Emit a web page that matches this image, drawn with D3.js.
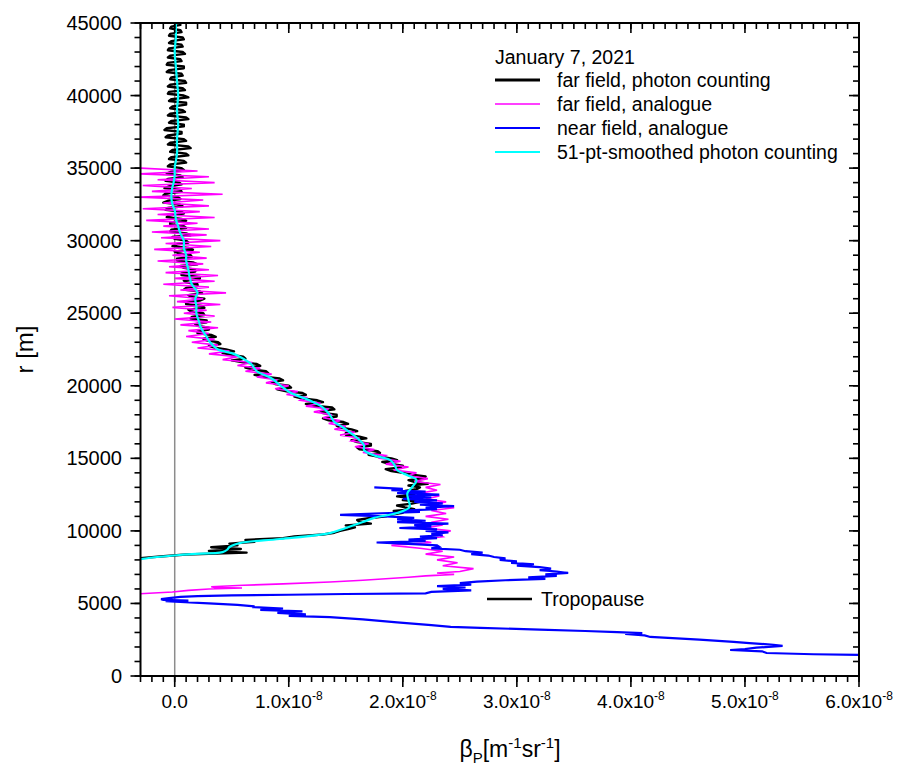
<!DOCTYPE html>
<html><head><meta charset="utf-8">
<script src="https://cdn.jsdelivr.net/npm/d3@7/dist/d3.min.js"></script>
<style>
body{margin:0;background:#fff}
svg{font-family:"Liberation Sans",Arial,sans-serif}
</style>
</head><body>
<svg id="c" width="906" height="776"></svg>
<script>
// ---------- DATA (beta values in units of 1e-8 m^-1 sr^-1, altitude r in m) ----------
const xTickValues = [0, 1, 2, 3, 4, 5, 6];
const yTickValues = [0, 5000, 10000, 15000, 20000, 25000, 30000, 35000, 40000, 45000];
const legendTitle = "January 7, 2021";
const seriesNames = ["far field, photon counting", "far field, analogue", "near field, analogue", "51-pt-smoothed photon counting"];
const tropopauseLabel = "Tropopause";

// far field, photon counting: regular range grid (125 m bins)
const pcStart = 8000, pcStep = 125;
const pcBeta = [
  -0.4, -0.3, -0.1, 0.1, 0.63, 0.3, 0.58, 0.32,
  0.55, 0.48, 0.7, 0.62, 0.95, 1.05, 1.3, 1.4,
  1.45, 1.52, 1.58, 1.5, 1.72, 1.62, 1.6, 1.7,
  1.85, 1.9, 2.0, 1.92, 2.1, 2.02, 1.95, 2.08,
  2.15, 2.0, 2.08, 1.95, 2.1, 2.0, 2.02, 2.12,
  2.15, 2.05, 2.22, 2.1, 2.05, 2.18, 2.2, 2.08,
  2.0, 1.9, 1.85, 1.98, 2.0, 1.88, 1.82, 1.95,
  1.9, 1.78, 1.7, 1.8, 1.78, 1.62, 1.6, 1.72,
  1.72, 1.6, 1.55, 1.68, 1.62, 1.5, 1.5, 1.6,
  1.55, 1.45, 1.42, 1.52, 1.48, 1.35, 1.3, 1.42,
  1.42, 1.3, 1.28, 1.4, 1.38, 1.22, 1.15, 1.3,
  1.25, 1.12, 1.05, 1.15, 1.12, 0.98, 0.9, 1.02,
  1.0, 0.88, 0.85, 0.95, 0.92, 0.78, 0.7, 0.82,
  0.8, 0.68, 0.62, 0.75, 0.72, 0.6, 0.5, 0.62,
  0.6, 0.5, 0.42, 0.52, 0.45, 0.35, 0.3, 0.4,
  0.38, 0.28, 0.25, 0.36, 0.32, 0.2, 0.2, 0.3,
  0.3, 0.2, 0.18, 0.28, 0.28, 0.14, 0.15, 0.26,
  0.25, 0.14, 0.12, 0.26, 0.24, 0.1, 0.1, 0.22,
  0.26, 0.14, 0.12, 0.24, 0.22, 0.08, 0.1, 0.2,
  0.2, 0.1, 0.08, 0.22, 0.22, 0.06, 0.06, 0.18,
  0.18, 0.08, 0.05, 0.2, 0.16, 0.02, 0.02, 0.15,
  0.14, 0.04, 0.0, 0.16, 0.12, -0.02, 0.02, 0.12,
  0.1, 0.0, -0.02, 0.14, 0.1, -0.04, -0.03, 0.1,
  0.08, -0.04, -0.04, 0.1, 0.06, -0.07, -0.05, 0.08,
  0.06, -0.08, -0.06, 0.07, 0.04, -0.1, -0.06, 0.05,
  0.03, -0.1, -0.08, 0.06, 0.05, -0.09, -0.05, 0.06,
  0.04, -0.08, -0.06, 0.07, 0.05, -0.07, -0.03, 0.08,
  0.06, -0.06, -0.04, 0.1, 0.08, -0.05, -0.03, 0.12,
  0.1, -0.04, -0.02, 0.14, 0.12, -0.06, -0.04, 0.1,
  0.08, -0.08, -0.06, 0.06, 0.06, -0.09, -0.07, 0.08,
  0.08, -0.05, -0.03, 0.12, 0.1, -0.06, -0.04, 0.09,
  0.07, -0.04, -0.02, 0.1, 0.1, -0.05, -0.03, 0.12,
  0.08, -0.06, -0.05, 0.09, 0.07, -0.06, -0.04, 0.1,
  0.09, -0.04, -0.03, 0.07, 0.06, -0.07, -0.05, 0.08,
  0.08, -0.07, -0.06, 0.06, 0.05, -0.06, -0.04, 0.09,
  0.07, -0.06, -0.05, 0.07, 0.06, -0.05, -0.03, 0.08,
  0.07, -0.05, -0.04, 0.06, 0.05, -0.04, -0.03, 0.05,
  0.04
];

// far field, analogue: lower transition (explicit) + regular grid above
const faLowAlt  = [5650, 5790, 5900, 6000, 6060, 6100, 6150, 6250, 6350, 6480, 6600, 6700, 6800, 6900, 7000, 7100];
const faLowBeta = [-0.35, -0.02, 0.12, 0.3, 0.59, 0.35, 0.32, 0.6, 0.95, 1.36, 1.65, 1.85, 2.05, 2.2, 2.45, 2.3];
const faStart = 7200, faStep = 200;
const faBeta = [
  2.5, 2.62, 2.35, 2.48, 2.3, 2.45, 2.2, 2.35, 2.15, 1.9,
  2.25, 2.1, 2.35, 2.3, 2.42, 2.2, 2.35, 2.25, 2.4, 2.2,
  2.38, 2.25, 2.45, 2.25, 2.38, 2.2, 2.32, 2.15, 2.3, 2.2,
  2.33, 2.1, 2.22, 2.05, 2.12, 1.92, 2.05, 1.85, 1.98, 1.8,
  1.85, 1.65, 1.75, 1.58, 1.7, 1.55, 1.62, 1.45, 1.58, 1.4,
  1.5, 1.35, 1.45, 1.3, 1.38, 1.22, 1.35, 1.15, 1.28, 1.1,
  1.15, 0.98, 1.08, 0.88, 1.0, 0.8, 0.9, 0.72, 0.85, 0.62,
  0.75, 0.55, 0.68, 0.42, 0.55, 0.3, 0.48, 0.2, 0.38, 0.15,
  0.35, 0.1, 0.3, 0.12, 0.38, 0.05, 0.32, 0.0, 0.35, 0.08,
  0.28, -0.02, 0.4, 0.02, 0.25, -0.05, 0.45, 0.05, 0.3, -0.1,
  0.35, 0.0, 0.38, -0.08, 0.3, -0.05, 0.25, -0.15, 0.28, -0.02,
  0.22, -0.18, 0.32, -0.08, 0.4, -0.12, 0.28, -0.2, 0.3, -0.1,
  0.2, -0.25, 0.35, -0.15, 0.22, -0.28, 0.3, -0.1, 0.25, -0.3,
  0.42, -0.2, 0.15, -0.28, 0.35, -0.15, 0.3, -0.3, 0.2, -0.3
];

// near field, analogue: lower part (explicit) + regular grid above
const naLowAlt = [1420, 1450, 1500, 1585, 1700, 1790, 1850, 1950, 2070, 2150, 2270, 2350, 2500, 2690, 2800, 2900, 2960, 3030, 3100, 3200,
  3310, 3380, 3500, 3700, 3900, 4060, 4150, 4250, 4350, 4450, 4550, 4650, 4750, 4800, 4900, 5000, 5100, 5150, 5200, 5250,
  5300, 5370, 5450, 5500, 5550, 5600, 5650, 5700, 5800, 5900, 6000, 6100, 6200, 6300, 6400, 6500, 6600, 6700, 6800, 6900, 7000];
const naLowBeta = [6.3, 6.0, 5.6, 5.19, 5.15, 4.87, 5.0, 5.1, 5.33, 5.25, 5.04, 4.9, 4.6, 4.17, 4.12, 3.95, 4.1, 3.88, 3.6, 3.2,
  2.68, 2.42, 2.25, 1.95, 1.65, 1.36, 1.0, 1.15, 0.9, 1.12, 0.75, 0.95, 0.68, 0.7, 0.55, 0.3, 0.05, -0.08, 0.12, -0.1,
  -0.12, -0.05, 0.05, 0.2, 0.5, 1.0, 1.5, 2.2, 2.25, 2.6, 2.35, 2.55, 2.3, 2.6, 2.5, 2.65, 2.9, 3.25, 3.1, 3.35, 3.25];
const naStart = 7100, naStep = 100;
const naBeta = [
  3.45, 3.35, 3.2, 3.3, 3.2, 3.0, 3.15, 2.95, 3.0, 2.85,
  2.9, 2.8, 2.75, 2.6, 2.7, 2.55, 2.5, 2.25, 2.32, 2.3,
  2.05, 1.77, 2.2, 2.05, 2.3, 2.15, 2.35, 2.25, 2.4, 2.2,
  2.3, 1.97, 2.25, 2.1, 2.4, 1.95, 2.2, 1.95, 2.1, 1.85,
  1.45, 1.75, 2.15, 2.0, 2.3, 2.2, 2.45, 2.15, 2.35, 2.1,
  2.3, 2.0, 2.25, 2.05, 2.32, 1.95, 2.2, 1.9, 2.0, 1.75
];

// 51-pt smoothed photon counting
const smAlt = [8060, 8200, 8340, 8400, 8540, 8700, 8890, 9160, 9440, 9850, 10200, 10610, 10900, 11230, 11650, 12100, 12600, 13000, 13500, 13800,
  14190, 14500, 14880, 15200, 15570, 15900, 16260, 16700, 17160, 17500, 18000, 18500, 19000, 19500, 20000, 20500, 21000, 21500, 22000, 22250,
  22500, 23000, 23500, 24000, 24500, 25000, 25500, 26000, 26400, 27000, 27500, 28000, 28650, 29000, 29500, 30000, 30500, 31000, 31500, 32100,
  32500, 33000, 33700, 34000, 34500, 35000, 36000, 37000, 38000, 39000, 40000, 41000, 42000, 43000, 44000, 45000];
const smBeta = [-0.30, -0.15, 0.04, 0.15, 0.42, 0.46, 0.48, 0.57, 0.92, 1.36, 1.5, 1.65, 1.75, 1.95, 2.06, 2.05, 2.04, 2.08, 2.12, 2.05,
  1.95, 1.93, 1.89, 1.75, 1.66, 1.66, 1.62, 1.55, 1.47, 1.40, 1.36, 1.30, 1.18, 1.02, 0.93, 0.85, 0.72, 0.67, 0.57, 0.50,
  0.38, 0.31, 0.27, 0.23, 0.21, 0.19, 0.19, 0.18, 0.2, 0.15, 0.13, 0.12, 0.10, 0.1, 0.08, 0.08, 0.05, 0.03, 0.01, 0.0,
  -0.02, -0.03, -0.02, -0.01, 0.0, 0.0, 0.02, 0.02, 0.03, 0.02, 0.03, 0.02, 0.01, 0.0, 0.01, 0.01];

// ---------- BUILD ----------
const pcData = pcBeta.map((v, i) => ({r: pcStart + i * pcStep, v}));
const faData = faLowAlt.map((r, i) => ({r, v: faLowBeta[i]}))
  .concat(faBeta.map((v, i) => ({r: faStart + i * faStep, v})));
const naData = naLowAlt.map((r, i) => ({r, v: naLowBeta[i]}))
  .concat(naBeta.map((v, i) => ({r: naStart + i * naStep, v})));
const smData = smAlt.map((r, i) => ({r, v: smBeta[i]}));

const colors = ["#000000", "#ff00ff", "#0000ff", "#00ffff"];

const L = 140.5, R = 859, T = 23, B = 676;
const x = d3.scaleLinear().domain([-0.3, 6]).range([L, R]);
const y = d3.scaleLinear().domain([0, 45000]).range([B, T]);

const svg = d3.select("#c");

svg.append("defs").append("clipPath").attr("id", "clip")
  .append("rect").attr("x", L).attr("y", T).attr("width", R - L).attr("height", B - T);

const plot = svg.append("g").attr("clip-path", "url(#clip)");

// zero line
plot.append("line").attr("x1", x(0)).attr("x2", x(0)).attr("y1", T).attr("y2", B)
  .attr("stroke", "#8c8c8c").attr("stroke-width", 1.5);

const line = d3.line().x(d => x(d.v)).y(d => y(d.r));
const smooth = d3.line().x(d => x(d.v)).y(d => y(d.r)).curve(d3.curveCatmullRom);

plot.append("path").datum(pcData).attr("d", line).attr("fill", "none")
  .attr("stroke", colors[0]).attr("stroke-width", 2.4).attr("stroke-linejoin", "round");
plot.append("path").datum(faData).attr("d", line).attr("fill", "none")
  .attr("stroke", colors[1]).attr("stroke-width", 1.6);
plot.append("path").datum(naData).attr("d", line).attr("fill", "none")
  .attr("stroke", colors[2]).attr("stroke-width", 2.2);
plot.append("path").datum(smData).attr("d", smooth).attr("fill", "none")
  .attr("stroke", colors[3]).attr("stroke-width", 2.2);

// ---------- AXES ----------
const yMinor = d3.range(0, 45001, 1000);
const xMinor = d3.range(-0.3, 6.001, 0.1).map(v => Math.round(v * 10) / 10);

function ticks(g, orient, vals, len, scale) {
  g.selectAll(null).data(vals).enter().append("line")
    .attr("stroke", "#000").attr("stroke-width", 1.6)
    .each(function(d) {
      const s = d3.select(this), p = scale(d);
      if (orient === "left") s.attr("x1", L).attr("x2", L - len).attr("y1", p).attr("y2", p);
      if (orient === "right") s.attr("x1", R).attr("x2", R - len).attr("y1", p).attr("y2", p);
      if (orient === "bottom") s.attr("x1", p).attr("x2", p).attr("y1", B).attr("y2", B + len);
      if (orient === "top") s.attr("x1", p).attr("x2", p).attr("y1", T).attr("y2", T + len);
    });
}
const ax = svg.append("g");
ticks(ax, "left", yMinor, 6, y);
ticks(ax, "left", yTickValues, 10, y);
ticks(ax, "right", yMinor, 6, y);
ticks(ax, "right", yTickValues, 10, y);
ticks(ax, "bottom", xMinor, 6, x);
ticks(ax, "bottom", xTickValues, 11, x);
ticks(ax, "top", xMinor, 6, x);
ticks(ax, "top", xTickValues, 10, x);

// frame
svg.append("rect").attr("x", L).attr("y", T).attr("width", R - L).attr("height", B - T)
  .attr("fill", "none").attr("stroke", "#000").attr("stroke-width", 2);

// y tick labels
svg.append("g").selectAll("text").data(yTickValues).enter().append("text")
  .attr("x", 122).attr("y", d => y(d) + 7).attr("text-anchor", "end")
  .attr("font-size", 20).text(d => d);

// x tick labels
const xl = svg.append("g").selectAll("text").data(xTickValues).enter().append("text")
  .attr("x", d => x(d)).attr("y", 708).attr("text-anchor", "middle").attr("font-size", 19);
xl.each(function(d) {
  const t = d3.select(this);
  if (d === 0) { t.text("0.0"); return; }
  t.append("tspan").text(d.toFixed(1) + "x10");
  t.append("tspan").attr("font-size", 12).attr("dy", -8).text("-8");
});

// axis titles
const xt = svg.append("text").attr("x", 510).attr("y", 757).attr("text-anchor", "middle").attr("font-size", 23);
xt.append("tspan").text("β");
xt.append("tspan").attr("font-size", 15).attr("dy", 6).text("P");
xt.append("tspan").attr("dy", -6).text("[m");
xt.append("tspan").attr("font-size", 15).attr("dy", -9).text("-1");
xt.append("tspan").attr("dy", 9).text("sr");
xt.append("tspan").attr("font-size", 15).attr("dy", -9).text("-1");
xt.append("tspan").attr("dy", 9).text("]");

svg.append("text").attr("transform", `translate(33,${(T + B) / 2}) rotate(-90)`)
  .attr("text-anchor", "middle").attr("font-size", 24).text("r [m]");

// ---------- LEGEND ----------
const lg = svg.append("g").attr("font-size", 19.5);
lg.append("text").attr("x", 495).attr("y", 64).text(legendTitle);
const rowsY = [80, 104, 128, 152];
const legW = [2.8, 1.6, 2.2, 2.2];
seriesNames.forEach((n, i) => {
  lg.append("line").attr("x1", 495).attr("x2", 540).attr("y1", rowsY[i]).attr("y2", rowsY[i])
    .attr("stroke", colors[i]).attr("stroke-width", legW[i]);
  lg.append("text").attr("x", 557).attr("y", rowsY[i] + 7).text(n);
});

// tropopause marker
svg.append("line").attr("x1", 487).attr("x2", 532).attr("y1", 599).attr("y2", 599)
  .attr("stroke", "#000").attr("stroke-width", 2.6);
svg.append("text").attr("x", 541).attr("y", 606).attr("font-size", 19.5).text(tropopauseLabel);
</script>
</body></html>
